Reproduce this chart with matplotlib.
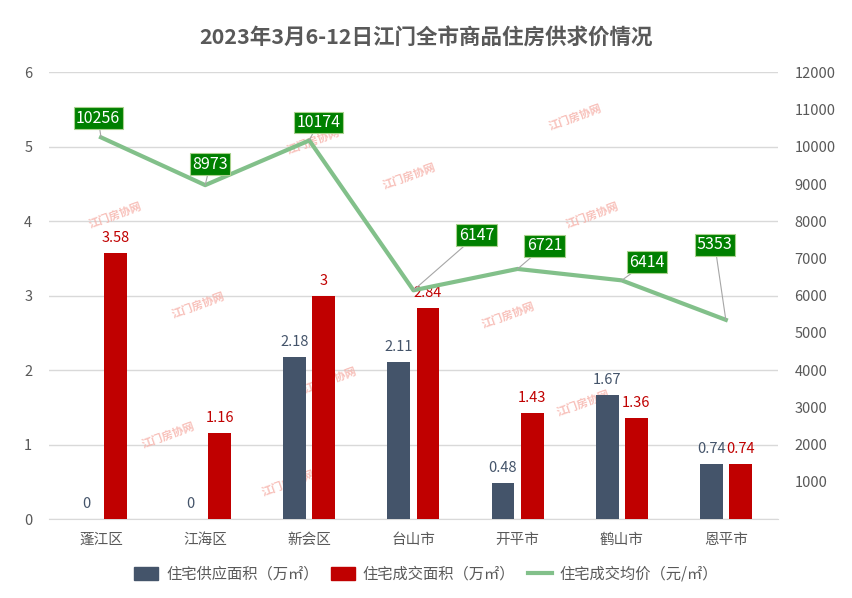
import numpy as np
import matplotlib
matplotlib.use("Agg")
import matplotlib.pyplot as plt
from matplotlib.patches import Patch
from matplotlib.lines import Line2D

plt.rcParams['font.family'] = ['Noto Sans CJK SC', 'DejaVu Sans']

# 数据
districts = ['蓬江区', '江海区', '新会区', '台山市', '开平市', '鹤山市', '恩平市']
supply = [0, 0, 2.18, 2.11, 0.48, 1.67, 0.74]       # 住宅供应面积（万㎡）
deal = [3.58, 1.16, 3, 2.84, 1.43, 1.36, 0.74]       # 住宅成交面积（万㎡）
price = [10256, 8973, 10174, 6147, 6721, 6414, 5353]  # 成交均价（元/㎡）
price_offsets = [(-3, 19), (5, 21), (9, 18), (63, 55), (27, 23), (25, 18), (-11, 75)]  # 标签偏移（像素）

blue = '#44546a'
red = '#c00000'
green_line = '#82c08a'
grey = '#595959'

fig = plt.figure(figsize=(8.52, 5.98), dpi=100)
ax = fig.add_axes([0.0575, 0.132, 0.8555, 0.7468])
ax2 = ax.twinx()

x = np.arange(len(districts))
w = 0.22
off = 0.14

# 水印（在柱子下面）
wm_pos = [(115, 215), (313, 141), (409, 176), (198, 305), (575, 117), (592, 215),
          (508, 315), (583, 403), (168, 435), (288, 483), (330, 380)]
for px, py in wm_pos:
    ax.text(px / 852, 1 - py / 598, '江门房协网', color='#f6b0a8', alpha=0.8, fontsize=8,
            fontweight='bold', rotation=20, ha='center', va='center', zorder=1,
            transform=fig.transFigure)

ax.bar(x - off, supply, w, color=blue, zorder=3)
ax.bar(x + off, deal, w, color=red, zorder=3)
for i in range(len(x)):
    ax.annotate(f'{supply[i]:g}', (x[i] - off, supply[i]), xytext=(0, 8), textcoords='offset pixels',
                ha='center', va='bottom', color=blue, fontsize=10.5, zorder=4)
    ax.annotate(f'{deal[i]:g}', (x[i] + off, deal[i]), xytext=(0, 8), textcoords='offset pixels',
                ha='center', va='bottom', color=red, fontsize=10.5, zorder=4)

ax.set_xlim(-0.5, len(x) - 0.5)
ax.set_ylim(0, 6)
ax.set_yticks(range(0, 7))
ax.grid(axis='y', color='#d9d9d9', lw=1, zorder=0)
ax.set_axisbelow(True)
ax.set_xticks(x)
ax.set_xticklabels(districts, fontsize=11, color=grey)
ax.tick_params(axis='both', length=0, colors=grey, labelsize=10.5)
ax.tick_params(axis='x', pad=10)
ax.tick_params(axis='y', pad=12)
for s in ['top', 'right', 'left']:
    ax.spines[s].set_visible(False)
ax.spines['bottom'].set_color('#d9d9d9')

ax2.plot(x, price, color=green_line, lw=3, zorder=5)
for i in range(len(x)):
    dx, dy = price_offsets[i]
    ax2.annotate(str(price[i]), (x[i], price[i]), xytext=(dx, dy), textcoords='offset pixels',
                 ha='center', va='center', color='white', fontsize=11.5, zorder=6,
                 bbox=dict(boxstyle='square,pad=0.15', fc='#008000', ec='#a9d18e', lw=0.8),
                 arrowprops=dict(arrowstyle='-', color='#a6a6a6', lw=0.8, shrinkA=0, shrinkB=0))
ax2.set_ylim(0, 12000)
ax2.set_yticks(range(1000, 12001, 1000))
ax2.tick_params(axis='y', length=0, colors=grey, labelsize=10.5, pad=12)
for s in ['top', 'right', 'left', 'bottom']:
    ax2.spines[s].set_visible(False)

fig.text(0.5, 0.936, '2023年3月6-12日江门全市商品住房供求价情况', ha='center', va='center',
         fontsize=15.5, fontweight='bold', color=grey)

handles = [Patch(color=blue), Patch(color=red), Line2D([], [], color=green_line, lw=3)]
labels = ['住宅供应面积（万㎡）', '住宅成交面积（万㎡）', '住宅成交均价（元/㎡）']
fig.legend(handles, labels, loc='center', bbox_to_anchor=(0.5, 0.04), ncol=3, frameon=False,
           fontsize=11, labelcolor=grey, handlelength=1.6, handleheight=0.9, columnspacing=0.8,
           handletextpad=0.5)

fig.savefig('out.png', dpi=100, facecolor='white')
